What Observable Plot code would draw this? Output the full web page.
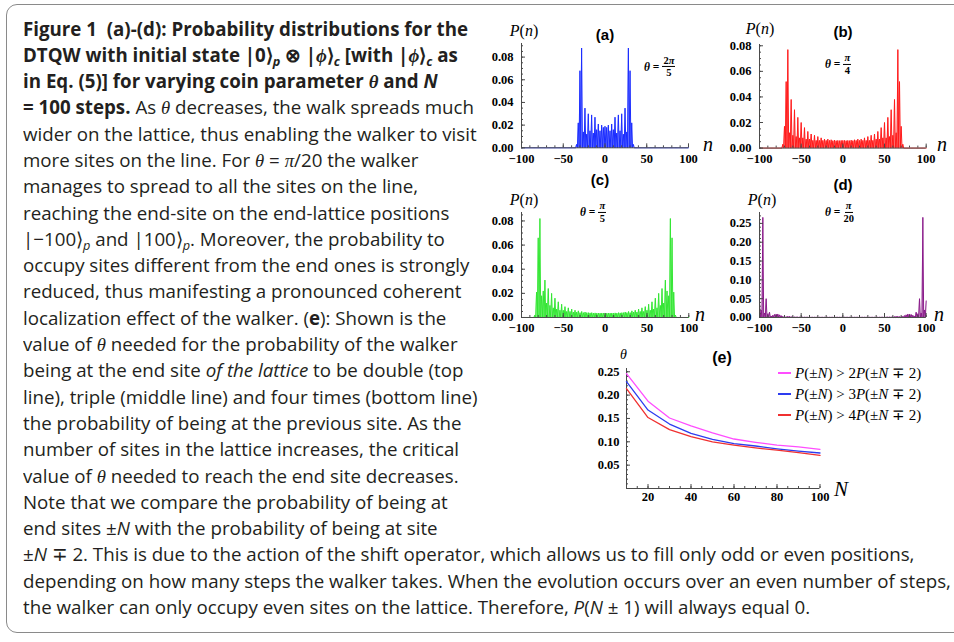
<!DOCTYPE html>
<html><head><meta charset="utf-8">
<script src="https://cdn.jsdelivr.net/npm/d3@7"></script>
<script src="https://cdn.jsdelivr.net/npm/@observablehq/plot@0.6"></script>
<style>
html,body{margin:0;padding:0;background:#fff;width:954px;height:642px;overflow:hidden;}
#page{position:relative;width:954px;height:642px;overflow:hidden;}
#frame{position:absolute;left:6px;top:4px;width:1000px;height:629px;border:1.6px solid #8a8a8a;border-radius:11px;box-sizing:border-box;}
#cap{position:absolute;left:23px;top:15.5px;font-family:"Open Sans","Noto Sans",sans-serif;font-size:19px;line-height:26.3px;color:#231f20;white-space:nowrap;}
#cap .ln{width:max-content;transform-origin:0 50%;height:26.3px;}
.m{font-family:"Liberation Serif","DejaVu Serif",serif;font-style:italic;}
sub{font-size:0.68em;vertical-align:-0.28em;line-height:0;}
.panel{position:absolute;}
.lab{position:absolute;font-family:"Liberation Serif","DejaVu Serif",serif;color:#000;white-space:nowrap;line-height:1;}
.ttl{position:absolute;font-family:"Liberation Sans",Arial,sans-serif;font-weight:bold;color:#000;white-space:nowrap;line-height:1;font-size:15px;}
.th{position:absolute;font-family:"Liberation Serif",serif;font-weight:bold;font-size:11.5px;white-space:nowrap;display:flex;align-items:center;transform:translateY(-50%);color:#000;}
.frac{display:inline-flex;flex-direction:column;align-items:center;margin-left:3px;font-size:10.5px;line-height:1.1;}
.frac .num{border-bottom:0.9px solid #000;padding:0 1px;}
.leg{position:absolute;font-family:"Liberation Serif",serif;font-size:15px;white-space:nowrap;display:flex;align-items:center;transform:translateY(-50%);color:#000;}
.sw{display:inline-block;width:13px;height:2px;margin-right:4px;}
</style>
</head><body>
<div id="page">
<div id="frame"></div>
<div id="cap">
<div class="ln"><b>Figure 1&nbsp; (a)-(d): Probability distributions for the</b></div>
<div class="ln"><b>DTQW with initial state |0⟩<sub><i>p</i></sub> ⊗ |<span class="m">ϕ</span>⟩<sub><i>c</i></sub> [with |<span class="m">ϕ</span>⟩<sub><i>c</i></sub> as</b></div>
<div class="ln"><b>in Eq. (5)] for varying coin parameter <span class="m">θ</span> and <i>N</i></b></div>
<div class="ln"><b>= 100 steps.</b> As <span class="m">θ</span> decreases, the walk spreads much</div>
<div class="ln">wider on the lattice, thus enabling the walker to visit</div>
<div class="ln">more sites on the line. For <span class="m">θ</span> = <span class="m">π</span>/20 the walker</div>
<div class="ln">manages to spread to all the sites on the line,</div>
<div class="ln">reaching the end-site on the end-lattice positions</div>
<div class="ln">|−100⟩<sub><i>p</i></sub> and |100⟩<sub><i>p</i></sub>. Moreover, the probability to</div>
<div class="ln">occupy sites different from the end ones is strongly</div>
<div class="ln">reduced, thus manifesting a pronounced coherent</div>
<div class="ln">localization effect of the walker. (<b>e</b>): Shown is the</div>
<div class="ln">value of <span class="m">θ</span> needed for the probability of the walker</div>
<div class="ln">being at the end site <i>of the lattice</i> to be double (top</div>
<div class="ln">line), triple (middle line) and four times (bottom line)</div>
<div class="ln">the probability of being at the previous site. As the</div>
<div class="ln">number of sites in the lattice increases, the critical</div>
<div class="ln">value of <span class="m">θ</span> needed to reach the end site decreases.</div>
<div class="ln">Note that we compare the probability of being at</div>
<div class="ln">end sites ±<i>N</i> with the probability of being at site</div>
<div class="ln">±<i>N</i> ∓ 2. This is due to the action of the shift operator, which allows us to fill only odd or even positions,</div>
<div class="ln">depending on how many steps the walker takes. When the evolution occurs over an even number of steps,</div>
<div class="ln">the walker can only occupy even sites on the lattice. Therefore, <i>P</i>(<i>N</i> ± 1) will always equal 0.</div>
</div>
</div>
<script>
// ---------- data ----------
// P(n) at even sites, starting at the given n and stepping by 2 (odd sites are 0)
const aStart = -34;
const aP = [0.003,0.022,0.068,0.088,0.014,0.035,0.012,0.030,0.015,0.029,0.013,0.027,0.016,0.021,0.015,0.020,0.018,
  0.019,
  0.018,0.020,0.015,0.021,0.016,0.027,0.013,0.029,0.015,0.030,0.012,0.035,0.014,0.088,0.068,0.022,0.003];
const bStart = -72;
const bP = [0.003,0.017,0.052,0.077,0.012,0.038,0.010,0.030,0.009,0.024,0.008,0.020,0.008,0.016,0.007,0.013,0.007,0.011,
  0.006,0.010,0.006,0.009,0.006,0.008,0.006,0.007,0.006,0.007,0.006,0.0065,0.0058,0.0062,0.0058,0.006,0.0058,0.006,
  0.006,
  0.006,0.0058,0.006,0.0058,0.0062,0.0058,0.0065,0.006,0.007,0.006,0.007,0.006,0.008,0.006,0.009,0.006,0.010,0.006,
  0.011,0.007,0.013,0.007,0.016,0.008,0.020,0.008,0.024,0.009,0.030,0.010,0.038,0.012,0.077,0.052,0.017,0.003];
const cStart = -84;
const cP = [0.002,0.021,0.066,0.082,0.018,0.022,0.031,0.012,0.024,0.010,0.020,0.008,0.016,0.007,0.013,0.006,0.011,0.006,
  0.009,0.005,0.008,0.005,0.007,0.0045,0.006,0.0045,0.0055,0.004,0.005,0.004,0.0045,0.004,0.004,0.0038,0.004,0.0036,
  0.0038,0.0036,0.0037,0.0036,0.0037,0.0036,
  0.0037,
  0.0036,0.0037,0.0036,0.0037,0.0036,0.0038,0.0036,0.004,0.0038,0.004,0.004,0.0045,0.004,0.005,0.004,0.0055,0.0045,
  0.006,0.0045,0.007,0.005,0.008,0.005,0.009,0.006,0.011,0.006,0.013,0.007,0.016,0.008,0.020,0.010,0.024,0.012,0.031,
  0.022,0.018,0.082,0.066,0.021,0.002];
const dStart = -100;
const dP = [0.044,0.020,0.266,0.012,0.050,0.010,0.014,0.004,0.006,0.008,0.009,0.009,0.007,0.005,0.003,0.002,0.002,0.003,
  0.003,0.002,0.0015,0.001,0.001,0.001,0.0008,0.0008,0.0007,0.0007,0.0006,0.0006,0.0005,0.0005,0.0005,0.0005,0.0005,
  0.0005,0.0005,0.0005,0.0005,0.0005,0.0005,0.0005,0.0005,0.0005,0.0005,0.0005,0.0005,0.0005,0.0005,0.0005,
  0.0005,
  0.0005,0.0005,0.0005,0.0005,0.0005,0.0005,0.0005,0.0005,0.0005,0.0005,0.0005,0.0005,0.0005,0.0005,0.0005,0.0005,
  0.0005,0.0005,0.0005,0.0005,0.0006,0.0006,0.0007,0.0007,0.0008,0.0008,0.001,0.001,0.001,0.0015,0.002,0.003,0.003,
  0.002,0.002,0.003,0.005,0.007,0.009,0.009,0.008,0.006,0.004,0.014,0.010,0.050,0.012,0.266,0.020,0.044];

// panel (e): critical theta vs N
const eN = [10,20,30,40,50,60,70,80,90,100];
const eTwo = [0.246,0.187,0.151,0.134,0.119,0.106,0.099,0.093,0.089,0.084];
const eThree = [0.229,0.168,0.138,0.118,0.105,0.096,0.091,0.085,0.080,0.076];
const eFour = [0.214,0.152,0.126,0.111,0.100,0.093,0.087,0.082,0.077,0.071];
const eSeries = ["P(±N) > 2P(±N ∓ 2)","P(±N) > 3P(±N ∓ 2)","P(±N) > 4P(±N ∓ 2)"];
const eColors = ["#ff4dff","#2d3cf0","#f03030"];

// tick labels
const xTicksDist = [-100,-50,0,50,100];
const yTicksSmall = [0,0.02,0.04,0.06,0.08];
const yTicksD = [0,0.05,0.10,0.15,0.20,0.25];
const xTicksE = [20,40,60,80,100];
const yTicksE = [0.05,0.10,0.15,0.20,0.25];

// ---------- helpers ----------
const page = document.getElementById("page");
const axisColor = "#4a4a4a";
const tickFont = {fontSize: 12.5, fontWeight: "bold", fill: "#000"};

function rowsFrom(start, vals){
  const rows = [];
  for (let n = -100; n <= 100; n++){
    let p = 0;
    const k = n - start;
    if (k % 2 === 0){ const i = k / 2; if (i >= 0 && i < vals.length) p = vals[i]; }
    rows.push({n, p});
  }
  return rows;
}
function mount(svg, left, top, w, h){
  const d = document.createElement("div");
  d.className = "panel";
  d.style.left = left + "px"; d.style.top = top + "px";
  d.style.width = w + "px"; d.style.height = h + "px";
  d.appendChild(svg); page.appendChild(d);
}
const M = {l: 50, r: 40, t: 30, b: 30};
const svgStyle = {background: "transparent", overflow: "visible", fontFamily: "Liberation Serif, DejaVu Serif, serif", maxWidth: "none"};

function distPanel(g, rows, color, yMax, yMajor, yMinorStep){
  const w = g.x1 - g.x0 + M.l + M.r, h = g.yBot - g.yTop + M.t + M.b;
  const xMinor = d3.range(-100, 101, 10);
  const yMinor = d3.range(0, yMax + 1e-9, yMinorStep);
  const svg = Plot.plot({
    width: w, height: h,
    marginLeft: M.l, marginRight: M.r, marginTop: M.t, marginBottom: M.b,
    style: svgStyle,
    x: {domain: [-100, 100], label: null},
    y: {domain: [0, yMax], label: null},
    marks: [
      Plot.areaY(rows, {x: "n", y: "p", fill: color, fillOpacity: 0.45}),
      Plot.lineY(rows, {x: "n", y: "p", stroke: color, strokeWidth: 1}),
      Plot.ruleY([0], {stroke: axisColor, strokeWidth: 1}),
      Plot.ruleX([-100], {stroke: axisColor, strokeWidth: 1}),
      Plot.axisX(xMinor, {tickSize: -2, fill: "none", stroke: axisColor, label: null}),
      Plot.axisX(xTicksDist, {tickSize: -4, fill: "none", stroke: axisColor, label: null}),
      Plot.axisX(xTicksDist, {tickSize: 0, tickPadding: 6, ...tickFont, label: null}),
      Plot.axisY(yMinor, {tickSize: -2, fill: "none", stroke: axisColor, label: null}),
      Plot.axisY(yMajor, {tickSize: -4, fill: "none", stroke: axisColor, label: null}),
      Plot.axisY(yMajor, {tickSize: 0, tickPadding: 8, tickFormat: d3.format(".2f"), ...tickFont, label: null})
    ]
  });
  mount(svg, g.x0 - M.l, g.yTop - M.t, w, h);
}

distPanel({x0: 521, x1: 688, yTop: 43, yBot: 147.3}, rowsFrom(aStart, aP), "#1a2cff", 0.092, yTicksSmall, 0.005);
distPanel({x0: 759.3, x1: 926, yTop: 43.7, yBot: 147.3}, rowsFrom(bStart, bP), "#ff1a1a", 0.081, yTicksSmall, 0.005);
distPanel({x0: 520.7, x1: 688, yTop: 211.7, yBot: 316.7}, rowsFrom(cStart, cP), "#33e633", 0.087, yTicksSmall, 0.005);
distPanel({x0: 759.3, x1: 926, yTop: 211.7, yBot: 316.7}, rowsFrom(dStart, dP), "#8a1a8a", 0.279, yTicksD, 0.01);

// panel (e)
(function(){
  const g = {x0: 625.8, x1: 819.3, yTop: 368.3, yBot: 488.3};
  const w = g.x1 - g.x0 + M.l + M.r, h = g.yBot - g.yTop + M.t + M.b;
  const rows = [];
  [eTwo, eThree, eFour].forEach((arr, s) => arr.forEach((v, i) => rows.push({N: eN[i], theta: v, series: eSeries[s]})));
  const svg = Plot.plot({
    width: w, height: h,
    marginLeft: M.l, marginRight: M.r, marginTop: M.t, marginBottom: M.b,
    style: svgStyle,
    x: {domain: [10, 100], label: null},
    y: {domain: [0, 0.257], label: null},
    color: {domain: eSeries, range: eColors},
    marks: [
      Plot.ruleY([0], {stroke: axisColor}),
      Plot.ruleX([10], {stroke: axisColor}),
      Plot.axisX(d3.range(10, 101, 5), {tickSize: -2, fill: "none", stroke: axisColor, label: null}),
      Plot.axisX(xTicksE, {tickSize: -4, fill: "none", stroke: axisColor, label: null}),
      Plot.axisX(xTicksE, {tickSize: 0, tickPadding: 4, ...tickFont, label: null}),
      Plot.axisY(d3.range(0.01, 0.256, 0.01), {tickSize: -2, fill: "none", stroke: axisColor, label: null}),
      Plot.axisY(yTicksE, {tickSize: -4, fill: "none", stroke: axisColor, label: null}),
      Plot.axisY(yTicksE, {tickSize: 0, tickPadding: 7, tickFormat: d3.format(".2f"), ...tickFont, label: null}),
      Plot.line(rows, {x: "N", y: "theta", z: "series", stroke: "series", strokeWidth: 1.3})
    ]
  });
  mount(svg, g.x0 - M.l, g.yTop - M.t, w, h);
})();

// ---------- annotations ----------
function lab(html, x, base, size, cls, center){
  const d = document.createElement("div");
  d.className = cls || "lab";
  d.innerHTML = html;
  d.style.fontSize = size + "px";
  const asc = (cls === "ttl") ? 0.8465 : 0.8375;
  d.style.left = x + "px";
  d.style.top = (base - asc * size) + "px";
  if (center) d.style.transform = "translateX(-50%)";
  page.appendChild(d);
}
const Pn = '<i>P</i>(<i>n</i>)';
lab(Pn, 524, 36, 16, "lab", true);
lab(Pn, 760, 34, 16, "lab", true);
lab(Pn, 524, 205, 16, "lab", true);
lab(Pn, 762, 205, 16, "lab", true);
lab('<i>θ</i>', 623.5, 360, 14, "lab", true);
lab('<i>n</i>', 703, 151, 20);
lab('<i>n</i>', 937, 151, 20);
lab('<i>n</i>', 695, 321, 20);
lab('<i>n</i>', 934, 321, 20);
lab('<i>N</i>', 834, 497, 21);
lab('(a)', 605, 39.5, 15, "ttl", true);
lab('(b)', 843, 37, 15, "ttl", true);
lab('(c)', 600, 185, 15, "ttl", true);
lab('(d)', 843, 190, 15, "ttl", true);
lab('(e)', 722, 364, 16, "ttl", true);

function theta(num, den, x, cy){
  const d = document.createElement("div");
  d.className = "th";
  d.innerHTML = '<i>θ</i>&nbsp;=<span class="frac"><span class="num">' + num + '</span><span>' + den + '</span></span>';
  d.style.left = x + "px"; d.style.top = cy + "px";
  page.appendChild(d);
}
theta("2<i>π</i>", "5", 644, 66.5);
theta("<i>π</i>", "4", 825, 64);
theta("<i>π</i>", "5", 580, 212);
theta("<i>π</i>", "20", 825, 212);

const legY = [373.3, 394, 415];
eSeries.forEach((s, i) => {
  const d = document.createElement("div");
  d.className = "leg";
  const k = s.match(/> (\d)P/)[1];
  d.innerHTML = '<span class="sw" style="background:' + eColors[i] + '"></span><i>P</i>(±<i>N</i>)&nbsp;&gt;&nbsp;' + k + '<i>P</i>(±<i>N</i>&nbsp;∓&nbsp;2)';
  d.style.left = "778px"; d.style.top = legY[i] + "px";
  page.appendChild(d);
});

// ---------- fit caption lines ----------
function fitCaption(){
  const lines = [...document.querySelectorAll("#cap .ln")];
  lines.forEach(l => l.style.transform = "");
  const targets = [[3, 451], [4, 450], [9, 450]];
  const k = d3.mean(targets, ([i, t]) => t / lines[i].getBoundingClientRect().width);
  lines.forEach(l => l.style.transform = "scaleX(" + k + ")");
}
fitCaption();
if (document.fonts && document.fonts.ready) document.fonts.ready.then(fitCaption);
</script>
</body></html>
